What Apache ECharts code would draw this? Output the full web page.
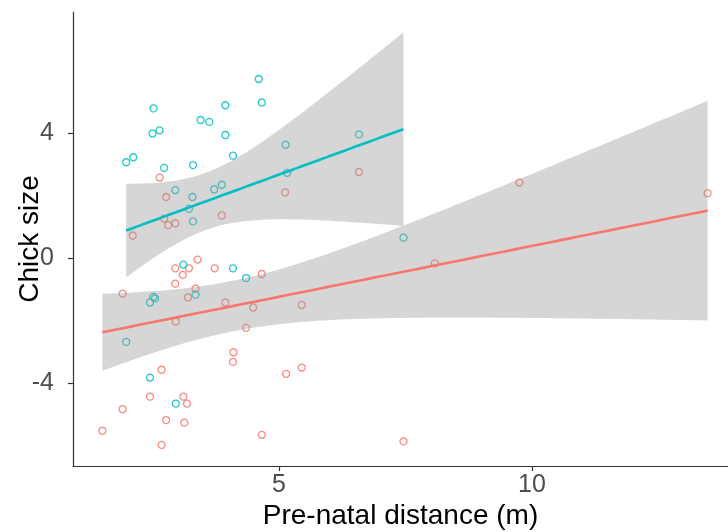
<!DOCTYPE html>
<html>
<head>
<meta charset="utf-8">
<script src="https://cdn.jsdelivr.net/npm/echarts@6/dist/echarts.min.js"></script>
<style>
  html, body { margin: 0; padding: 0; background: #fff; }
  #chart { width: 728px; height: 532px; }
</style>
</head>
<body>
<div id="chart"></div>
<script>
// Observations: pre-natal distance (m) and chick size, two groups
const redDistance = [2.64, 2.77, 2.11, 2.73, 2.81, 2.95, 3.87, 3.39, 5.12, 6.58,
  2.95, 3.22, 3.10, 3.73, 4.66, 2.95, 1.91, 3.35, 3.20, 3.94,
  4.49, 5.45, 2.96, 4.35, 4.10, 4.09, 2.68, 5.14, 5.45, 2.45,
  3.11, 3.18, 1.91, 2.77, 3.13, 1.51, 4.66, 2.68, 8.08, 7.46,
  9.75, 13.47];
const redSize = [2.57, 1.95, 0.72, 1.26, 1.05, 1.11, 1.36, -0.05, 2.10, 2.75,
  -0.33, -0.33, -0.54, -0.33, -0.51, -0.82, -1.14, -0.98, -1.26, -1.42,
  -1.58, -1.50, -2.03, -2.23, -3.01, -3.32, -3.57, -3.70, -3.50, -4.43,
  -4.43, -4.65, -4.83, -5.18, -5.26, -5.52, -5.65, -5.97, -0.17, -5.86,
  2.41, 2.07];

const tealDistance = [1.98, 2.12, 2.52, 2.50, 2.64, 2.73, 2.95, 3.29, 3.30, 3.45,
  3.62, 3.72, 3.87, 3.94, 3.94, 4.09, 3.30, 3.22, 4.60, 4.66,
  5.13, 5.16, 6.58, 7.46, 3.11, 4.09, 4.35, 2.52, 2.55, 2.45,
  3.35, 1.98, 2.45, 2.96];
const tealSize = [3.06, 3.22, 4.78, 3.98, 4.08, 2.88, 2.17, 1.95, 2.97, 4.41,
  4.35, 2.19, 2.34, 4.88, 3.93, 3.27, 1.17, 1.57, 5.72, 4.97,
  3.62, 2.72, 3.95, 0.65, -0.21, -0.33, -0.64, -1.24, -1.29, -1.42,
  -1.17, -2.68, -3.82, -4.65];

const xTicks = [5, 10];
const yTicks = [-4, 0, 4];

const RED = '#F8766D';
const TEAL = '#00BFC4';

// Two-sided 95% Student t quantile (Cornish-Fisher expansion)
function t975(df) {
  const z = 1.959964;
  const z3 = z * z * z, z5 = z3 * z * z, z7 = z5 * z * z;
  return z + (z3 + z) / (4 * df)
    + (5 * z5 + 16 * z3 + 3 * z) / (96 * df * df)
    + (3 * z7 + 19 * z5 + 17 * z3 - 15 * z) / (384 * df * df * df);
}

// Least-squares line with 95% confidence band, evaluated at 80 points
function linearFit(xs, ys) {
  const n = xs.length;
  const mx = xs.reduce((s, v) => s + v, 0) / n;
  const my = ys.reduce((s, v) => s + v, 0) / n;
  let sxx = 0, sxy = 0;
  for (let i = 0; i < n; i++) {
    sxx += (xs[i] - mx) * (xs[i] - mx);
    sxy += (xs[i] - mx) * (ys[i] - my);
  }
  const b = sxy / sxx, a = my - b * mx;
  let sse = 0;
  for (let i = 0; i < n; i++) {
    const r = ys[i] - (a + b * xs[i]);
    sse += r * r;
  }
  const s2 = sse / (n - 2);
  const t = t975(n - 2);
  const lo = Math.min(...xs), hi = Math.max(...xs);
  const line = [], upper = [], lower = [];
  for (let k = 0; k < 80; k++) {
    const x = lo + (hi - lo) * k / 79;
    const yhat = a + b * x;
    const se = Math.sqrt(s2 * (1 / n + (x - mx) * (x - mx) / sxx));
    line.push([x, yhat]);
    upper.push([x, yhat + t * se]);
    lower.push([x, yhat - t * se]);
  }
  return { line, upper, lower };
}

const redFit = linearFit(redDistance, redSize);
const tealFit = linearFit(tealDistance, tealSize);

function bandSeries(fit, z) {
  return {
    type: 'custom',
    z: z,
    silent: true,
    data: [fit.line[0]],
    encode: { x: 0, y: 1 },
    renderItem: function (params, api) {
      const pts = fit.upper.map(p => api.coord(p))
        .concat(fit.lower.slice().reverse().map(p => api.coord(p)));
      return {
        type: 'polygon',
        shape: { points: pts },
        style: { fill: 'rgba(153,153,153,0.4)', stroke: null }
      };
    }
  };
}

function pointSeries(xs, ys, color) {
  return {
    type: 'scatter',
    z: 2,
    symbol: 'circle',
    symbolSize: 7,
    silent: true,
    itemStyle: { color: 'rgba(0,0,0,0)', borderColor: color, borderWidth: 1.3, opacity: 0.85 },
    data: xs.map((x, i) => [x, ys[i]])
  };
}

function lineSeries(fit, color) {
  return {
    type: 'line',
    z: 4,
    silent: true,
    showSymbol: false,
    lineStyle: { color: color, width: 2.6 },
    data: fit.line
  };
}

const chart = echarts.init(document.getElementById('chart'), null, { renderer: 'canvas' });
chart.setOption({
  animation: false,
  backgroundColor: '#ffffff',
  grid: { left: 73, right: 0, top: 12, bottom: 66, containLabel: false, outerBoundsMode: 'none' },
  xAxis: {
    type: 'value',
    min: 0.929,
    max: 13.874,
    name: 'Pre-natal distance (m)',
    nameLocation: 'middle',
    nameGap: 36,
    nameMoveOverlap: false,
    nameTextStyle: { fontFamily: 'Liberation Sans', fontSize: 28, color: '#000' },
    axisLine: { show: true, onZero: false, lineStyle: { color: '#333', width: 1.2 } },
    axisTick: { show: true, length: 5, customValues: xTicks, lineStyle: { color: '#333', width: 1.2 } },
    axisLabel: { customValues: xTicks, margin: 7, fontFamily: 'Liberation Sans', fontSize: 25, color: '#4D4D4D' },
    splitLine: { show: false }
  },
  yAxis: {
    type: 'value',
    min: -6.645,
    max: 7.86,
    name: 'Chick size',
    nameLocation: 'middle',
    nameRotate: 90,
    nameGap: 29,
    nameMoveOverlap: false,
    nameTextStyle: { fontFamily: 'Liberation Sans', fontSize: 28, color: '#000' },
    axisLine: { show: true, onZero: false, lineStyle: { color: '#333', width: 1.2 } },
    axisTick: { show: true, length: 5, customValues: yTicks, lineStyle: { color: '#333', width: 1.2 } },
    axisLabel: { customValues: yTicks, margin: 19, fontFamily: 'Liberation Sans', fontSize: 25, color: '#4D4D4D' },
    splitLine: { show: false }
  },
  series: [
    pointSeries(redDistance, redSize, RED),
    pointSeries(tealDistance, tealSize, TEAL),
    bandSeries(redFit, 3),
    bandSeries(tealFit, 3),
    lineSeries(redFit, RED),
    lineSeries(tealFit, TEAL)
  ]
});
</script>
</body>
</html>
